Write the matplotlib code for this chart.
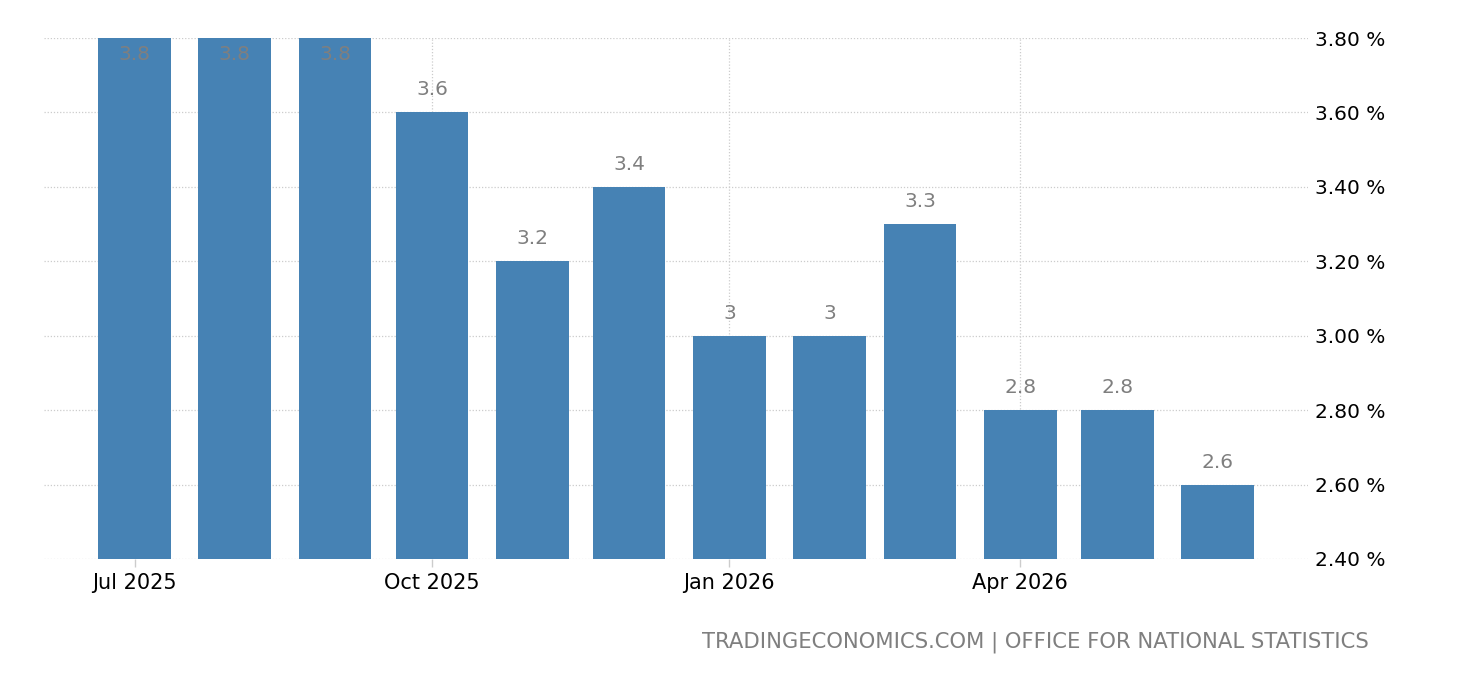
import matplotlib
matplotlib.use("Agg")
import matplotlib.pyplot as plt
import matplotlib.dates as mdates
import datetime as dt

months = ["2025-07", "2025-08", "2025-09", "2025-10", "2025-11", "2025-12",
          "2026-01", "2026-02", "2026-03", "2026-04", "2026-05", "2026-06"]
values = [3.8, 3.8, 3.8, 3.6, 3.2, 3.4, 3.0, 3.0, 3.3, 2.8, 2.8, 2.6]
tick_months = ["2025-07", "2025-10", "2026-01", "2026-04"]
tick_labels = ["Jul 2025", "Oct 2025", "Jan 2026", "Apr 2026"]
y_ticks = [2.4, 2.6, 2.8, 3.0, 3.2, 3.4, 3.6, 3.8]
source = "TRADINGECONOMICS.COM | OFFICE FOR NATIONAL STATISTICS"

def to_date(s):
    y, m = s.split("-")
    return dt.datetime(int(y), int(m), 1)

xd = [mdates.date2num(to_date(m)) for m in months]
xt = [mdates.date2num(to_date(m)) for m in tick_months]

bar_color = "#4682b4"
label_color = "#7f7f7f"
grid_color = "#cccccc"
fs = 14.5

fig = plt.figure(figsize=(14.6, 6.8), dpi=100)
ax = fig.add_axes([44/1460, 1 - 559/680, (1308-44)/1460, (559-38)/680])

ymin, ymax = 2.4, 3.8
ax.bar(xd, values, width=22.5, color=bar_color, zorder=2)

for x, v in zip(xd, values):
    lab = f"{v:g}"
    if v >= ymax - 1e-9:
        ax.text(x, ymax - 0.02, lab, ha="center", va="top", color=label_color,
                fontsize=fs, zorder=3)
    else:
        ax.text(x, v + 0.035, lab, ha="center", va="bottom", color=label_color,
                fontsize=fs, zorder=3)

ax.set_ylim(ymin, ymax)
ax.set_xlim(mdates.date2num(dt.datetime(2025, 6, 3)),
            mdates.date2num(dt.datetime(2026, 6, 29)))

ax.set_yticks(y_ticks)
ax.set_yticklabels([f"{t:.2f} %" for t in y_ticks])
ax.yaxis.tick_right()
ax.tick_params(axis="y", length=0, pad=5, labelsize=fs, labelcolor="black")
ax.set_xticks(xt)
ax.set_xticklabels(tick_labels)
ax.tick_params(axis="x", length=6, width=1, color=grid_color, pad=4,
               labelsize=15, labelcolor="black")

ax.grid(True, axis="both", color=grid_color, linestyle=(0, (1, 1.5)),
        linewidth=0.9, zorder=0)
ax.set_axisbelow(True)
for s in ax.spines.values():
    s.set_visible(False)

fig.text(1369/1460, 1 - 642/680, source, ha="right", va="center",
         color="#7f7f7f", fontsize=15.2)

fig.savefig("out.png", dpi=100)
